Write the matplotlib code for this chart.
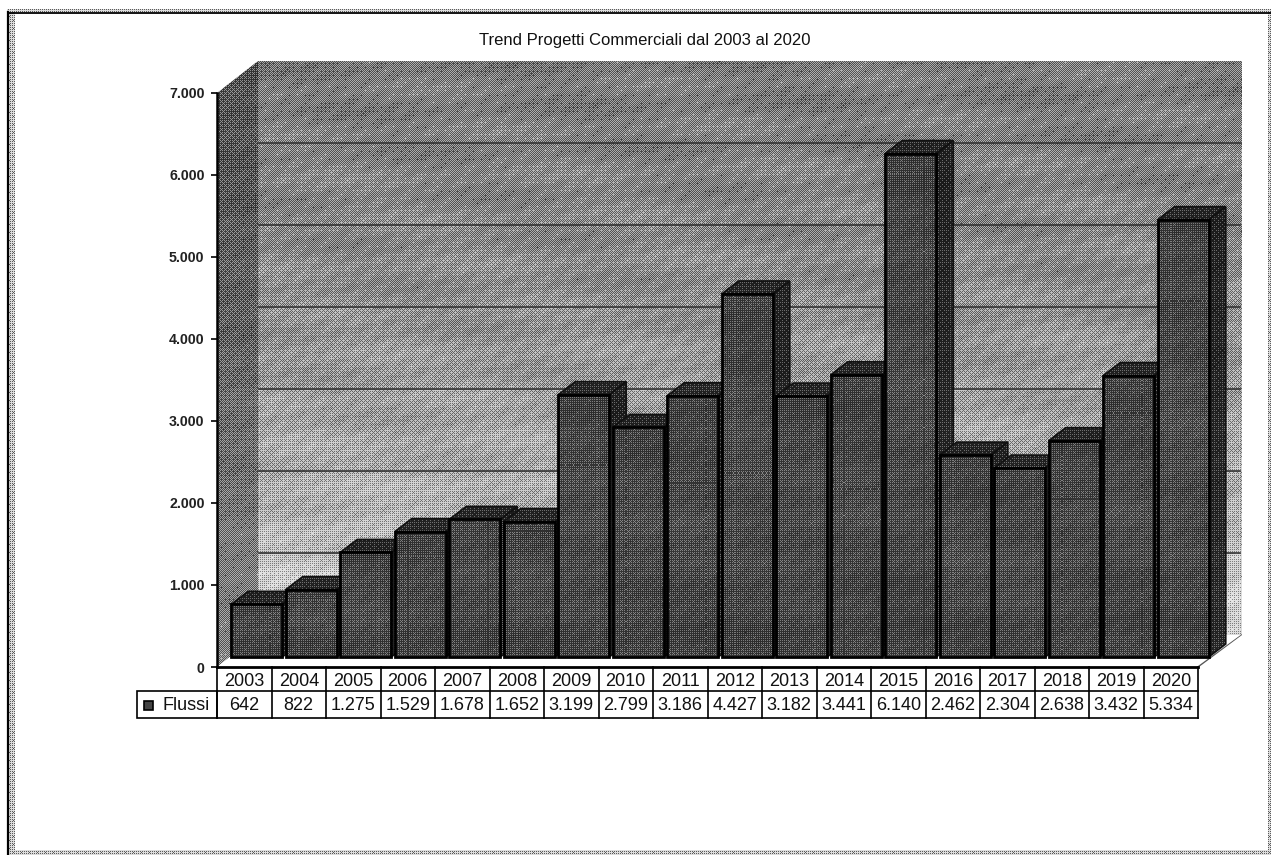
import numpy as np
import matplotlib
matplotlib.use("Agg")
import matplotlib.pyplot as plt
from matplotlib.patches import Polygon, Rectangle
from matplotlib.transforms import Affine2D, IdentityTransform, blended_transform_factory

plt.rcParams['font.family'] = ['Liberation Sans', 'DejaVu Sans']

years = [2003, 2004, 2005, 2006, 2007, 2008, 2009, 2010, 2011, 2012, 2013, 2014, 2015, 2016, 2017, 2018, 2019, 2020]
flussi = [642, 822, 1275, 1529, 1678, 1652, 3199, 2799, 3186, 4427, 3182, 3441, 6140, 2462, 2304, 2638, 3432, 5334]
y_ticks = [0, 1000, 2000, 3000, 4000, 5000, 6000, 7000]
series_name = "Flussi"
title = "Trend Progetti Commerciali dal 2003 al 2020"

W, H = 1271, 855
fig = plt.figure(figsize=(W / 100, H / 100), dpi=100, facecolor='white')

BAYER = np.array([[0, 32, 8, 40, 2, 34, 10, 42], [48, 16, 56, 24, 50, 18, 58, 26],
                  [12, 44, 4, 36, 14, 46, 6, 38], [60, 28, 52, 20, 62, 30, 54, 22],
                  [3, 35, 11, 43, 1, 33, 9, 41], [51, 19, 59, 27, 49, 17, 57, 25],
                  [15, 47, 7, 39, 13, 45, 5, 37], [63, 31, 55, 23, 61, 29, 53, 21]]) / 64.0 + 1 / 128


def shade(axis, patch, stops_y, stops_g, zorder, mottle=0.03, mix=0.36):
    """Halftone texture over a patch, in display pixels, clipped to that patch."""
    bb = patch.get_window_extent()
    x0, x1 = int(np.floor(bb.x0)), int(np.ceil(bb.x1)) + 1
    y0, y1 = int(np.floor(bb.y0)), int(np.ceil(bb.y1)) + 1
    xx, yy = np.meshgrid(np.arange(x0, x1), np.arange(y1 - 1, y0 - 1, -1))
    py = H - yy
    g = np.interp(py, stops_y, stops_g)
    g = g + mottle * (0.6 * np.sin(py / 7.0 + xx / 300.0) + 0.5 * np.sin(xx / 37.0 - py / 23.0)
                      + 0.9 * np.sin(xx / 5.3 + py / 3.1) * np.sin(xx / 11.0 - py / 8.7))
    b = (g > BAYER[yy % 8, xx % 8]).astype(float)
    out = mix * b + (1 - mix) * g
    im = axis.imshow(out, cmap='gray', vmin=0, vmax=1, extent=(x0, x1, y0, y1), origin='upper',
                     transform=IdentityTransform(), aspect='auto', interpolation='nearest', zorder=zorder)
    im.set_clip_box(fig.bbox)
    im.set_clip_path(patch)
    return im


# ---------- page and walls (pixel coordinates) ----------
bg = fig.add_axes([0, 0, 1, 1], zorder=0)
bg.set_xlim(0, W)
bg.set_ylim(0, H)
bg.axis('off')


def P(pts, **kw):
    pts = [(x, H - y) for x, y in pts]
    p = Polygon(pts, closed=True, transform=IdentityTransform(), **kw)
    bg.add_patch(p)
    return p


FX0, FX1, FY, FT = 217, 1198, 667, 93      # front plane
DX, DY = 42, 32                            # chart depth

for pts in ([(7, 9), (W, 9), (W, 12), (7, 12)], [(9, 12), (15, 12), (15, 855), (9, 855)],
            [(15, 850), (W, 850), (W, 855), (15, 855)], [(1268, 12), (W, 12), (W, 855), (1268, 855)]):
    p = P(pts, fc='none', ec='none', zorder=1)
    shade(bg, p, [0, 855], [0.72, 0.72], 1, mottle=0.0, mix=0.5)
bg.add_line(plt.Line2D([8, 8], [H - 12, 0], color='black', lw=1.6, transform=IdentityTransform(), zorder=2))
bg.add_line(plt.Line2D([8, W], [H - 12.5, H - 12.5], color='black', lw=1.3, transform=IdentityTransform(), zorder=2))

back = P([(FX0 + DX - 1, FT - DY), (FX1 + DX + 2, FT - DY), (FX1 + DX + 2, FY - DY), (FX0 + DX - 1, FY - DY)],
         fc='none', ec='none')
shade(bg, back, [61, 160, 300, 450, 560, 635], [0.48, 0.51, 0.56, 0.65, 0.74, 0.80], 2, mottle=0.04)
left = P([(FX0, FT), (FX0 + DX - 1, FT - DY), (FX0 + DX - 1, FY - DY), (FX0, FY)], fc='none', ec='none')
shade(bg, left, [61, 300, 667], [0.32, 0.38, 0.52], 2, mottle=0.025)
P([(FX0, FY), (FX1, FY), (FX1 + DX + 2, FY - DY), (FX0 + DX - 1, FY - DY)], fc='white', ec='none', zorder=3)
P([(FX1, FY - 1), (FX1 + DX + 2, FY - DY - 1), (FX1 + DX + 2, FY - DY), (FX1 + 1, FY)], fc='#555555', ec='none', zorder=3)

# ---------- data axes ----------
ax = fig.add_axes([FX0 / W, (H - FY) / H, (FX1 - FX0) / W, (FY - FT) / H], zorder=1)
ax.patch.set_alpha(0)
n = len(years)
ax.set_xlim(0, n)
ax.set_ylim(0, 7000)
ax.set_xticks([])
ax.set_yticks(y_ticks)
ax.set_yticklabels([f"{v:,}".replace(",", ".") for v in y_ticks], fontsize=10.2, fontweight='bold', color='#222222')
ax.tick_params(axis='y', length=4, width=1.2, pad=5)
for s in ('top', 'right'):
    ax.spines[s].set_visible(False)
ax.spines['left'].set_linewidth(1.8)
ax.spines['bottom'].set_linewidth(2.0)

# gridlines on the back wall
wall_shift = Affine2D().translate(DX, DY)
for v in y_ticks[1:-1]:
    ax.plot([0, n], [v, v], color='#333333', lw=1.2, clip_on=False, zorder=3,
            transform=ax.transData + wall_shift)

# bars
BDX, BDY = 12.5, 10      # offset of the front face from the front plane
SDX, SDY = 17, 13        # depth of a bar
WIDTH = 0.936
shift = Affine2D().translate(BDX, BDY)
x_pos = np.arange(n) + 0.5
bars = ax.bar(x_pos, flussi, width=WIDTH, facecolor='none', edgecolor='black', linewidth=2.0, clip_on=False)
z = 10
for xc, v, rect in zip(x_pos, flussi, bars):
    rect.set_transform(ax.transData + shift)
    a = ax.transData.transform([(xc - WIDTH / 2, 0), (xc + WIDTH / 2, 0),
                                (xc + WIDTH / 2, v), (xc - WIDTH / 2, v)]) + (BDX, BDY)
    side = Polygon([a[1], a[2], a[2] + (SDX, SDY), a[1] + (SDX, SDY)], closed=True, fc='none', ec='#111111', lw=1.2,
                   transform=IdentityTransform(), clip_on=False, zorder=z + 2)
    top = Polygon([a[3], a[2], a[2] + (SDX, SDY), a[3] + (SDX, SDY)], closed=True, fc='none', ec='#111111', lw=1.2,
                  transform=IdentityTransform(), clip_on=False, zorder=z + 2)
    ax.add_patch(side)
    ax.add_patch(top)
    rect.set_zorder(z + 5)
    py_top, py_bot = H - a[2][1], H - a[1][1]
    shade(ax, side, [py_top - SDY, py_bot], [0.16, 0.20], z + 1, mottle=0.012, mix=0.3)
    shade(ax, top, [py_top - SDY, py_top], [0.18, 0.18], z + 1, mottle=0.01, mix=0.3)
    shade(ax, rect, [py_top, (py_top + py_bot) / 2, py_bot], [0.27, 0.31, 0.27], z + 4, mottle=0.02, mix=0.3)
    z += 10
ax.set_xlim(0, n)
ax.set_ylim(0, 7000)

# ---------- data table ----------
tr = blended_transform_factory(ax.transData, IdentityTransform())
R0, R1, R2 = H - 667, H - 691, H - 718
edges = list(range(n + 1))
for x in edges:
    ax.plot([x, x], [R0, R2], color='black', lw=1.2, transform=tr, clip_on=False, zorder=500)
for yy in (R1, R2):
    ax.plot([0, n], [yy, yy], color='black', lw=1.2, transform=tr, clip_on=False, zorder=500)
fig.add_artist(Rectangle((137, R2), FX0 - 137, R1 - R2, fc='none', ec='black', lw=1.2, transform=IdentityTransform()))
fig.add_artist(Rectangle((144, H - 710), 9, 9, fc='#444444', ec='black', lw=1.2, transform=IdentityTransform()))
fig.text(162, (R1 + R2) / 2 - 1, series_name, fontsize=13, va='center', ha='left', color='#111111',
         transform=IdentityTransform())
for xc, yr, v in zip(x_pos, years, flussi):
    ax.text(xc, (R0 + R1) / 2 - 2, str(yr), fontsize=13, ha='center', va='center', color='#111111',
            transform=tr, clip_on=False, zorder=501)
    ax.text(xc, (R1 + R2) / 2 - 1, f"{v:,}".replace(",", "."), fontsize=13, ha='center', va='center',
            color='#111111', transform=tr, clip_on=False, zorder=501)

fig.text(645, H - 40, title, fontsize=11.95, ha='center', va='center', color='#111111',
         transform=IdentityTransform())

fig.savefig("out.png", dpi=100)
